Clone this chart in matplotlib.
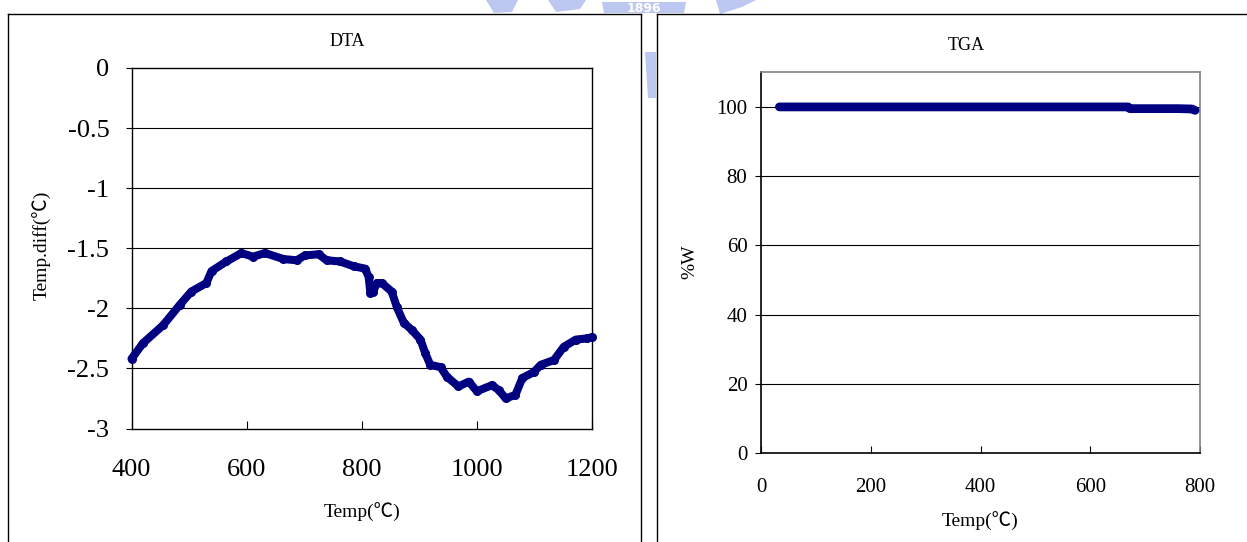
import matplotlib
matplotlib.use("Agg")
import matplotlib.pyplot as plt
from matplotlib.lines import Line2D
from matplotlib.patches import Polygon

# ---- data -------------------------------------------------------------
dta_temp = [400, 420, 455, 484, 504, 530, 539, 565, 591, 611, 632, 664, 687,
            701, 725, 739, 762, 786, 806, 812, 815, 820, 826, 835, 852, 861,
            873, 887, 902, 910, 919, 937, 948, 968, 986, 1000, 1026, 1038,
            1050, 1067, 1079, 1099, 1111, 1134, 1151, 1172, 1192, 1200]
dta_diff = [-2.42, -2.29, -2.14, -1.97, -1.86, -1.79, -1.69, -1.61, -1.54,
            -1.57, -1.54, -1.59, -1.60, -1.56, -1.55, -1.60, -1.61, -1.65,
            -1.67, -1.74, -1.87, -1.86, -1.79, -1.79, -1.86, -1.99, -2.12,
            -2.18, -2.26, -2.37, -2.47, -2.49, -2.57, -2.65, -2.61, -2.69,
            -2.64, -2.68, -2.75, -2.72, -2.58, -2.53, -2.47, -2.43, -2.32,
            -2.26, -2.25, -2.24]

tga_temp = [33, 200, 400, 600, 669, 672, 700, 760, 785, 791]
tga_weight = [100.0, 100.0, 100.0, 100.0, 100.0, 99.5, 99.5, 99.5, 99.4, 99.0]

dta_xticks = [400, 600, 800, 1000, 1200]
dta_yticks = [0, -0.5, -1, -1.5, -2, -2.5, -3]
dta_yticklabels = ["0", "-0.5", "-1", "-1.5", "-2", "-2.5", "-3"]
tga_xticks = [0, 200, 400, 600, 800]
tga_yticks = [0, 20, 40, 60, 80, 100]

# ---- style ------------------------------------------------------------
W, H = 1247, 542
SERIF = ["Liberation Serif", "Noto Sans CJK TC", "DejaVu Serif"]
plt.rcParams["font.family"] = SERIF
NAVY = "#000080"


def fx(px):
    return px / W


def fy(py):
    return 1 - py / H


fig = plt.figure(figsize=(W / 100, H / 100), dpi=100)
fig.patch.set_facecolor("white")

# faint emblem at the top of the page
WM = "#bcc8f0"
for pts in ([(486, 0), (518, 0), (512, 12), (494, 13)],
            [(548, 0), (586, 0), (580, 9), (556, 12)],
            [(602, 2), (686, 2), (684, 13), (604, 13)],
            [(716, 0), (756, 0), (742, 7), (720, 14)],
            [(645, 52), (656, 52), (656, 98), (648, 98)]):
    fig.add_artist(Polygon([(fx(x), fy(y)) for x, y in pts], closed=True,
                           transform=fig.transFigure, facecolor=WM,
                           edgecolor="none", zorder=0))
fig.text(fx(644), fy(8), "1896", color="white", fontsize=9,
         fontweight="bold", ha="center", va="center", zorder=1,
         family="DejaVu Sans")

# panel frames
frame_kw = dict(transform=fig.transFigure, color="black", lw=1.0, zorder=2)
for seg in (((8, 641), (14, 14)), ((8, 8), (14, 560)), ((641, 641), (14, 560)),
            ((657, 1260), (14, 14)), ((657, 657), (14, 560))):
    (x0, x1), (y0, y1) = seg
    fig.add_artist(Line2D([fx(x0), fx(x1)], [fy(y0), fy(y1)], **frame_kw))

# ---- DTA panel ----------------------------------------------------------
ax1 = fig.add_axes([fx(131.5), fy(428.5), (592 - 131.5) / W, (428.5 - 68) / H])
ax1.plot(dta_temp, dta_diff, color=NAVY, lw=5.8, solid_capstyle="round",
         solid_joinstyle="round", marker="o", markersize=6.5,
         markeredgewidth=0, clip_on=False, zorder=3)
ax1.set_xlim(400, 1200)
ax1.set_ylim(-3, 0)
ax1.set_xticks(dta_xticks)
ax1.set_yticks(dta_yticks)
ax1.set_yticklabels(dta_yticklabels)
for y in dta_yticks[1:-1]:
    ax1.axhline(y, color="black", lw=0.8, zorder=1)
for s in ax1.spines.values():
    s.set_color("black")
    s.set_linewidth(1.0)
ax1.tick_params(axis="x", direction="in", length=6, width=0.8,
                labelsize=19, pad=22)
ax1.tick_params(axis="y", direction="out", length=4, width=0.8,
                labelsize=19, pad=12)
fig.text(fx(347), fy(41), "DTA", fontsize=13, ha="center", va="center")
fig.text(fx(42), fy(245), "Temp.diff(℃)", fontsize=14, rotation=90,
         ha="center", va="center")
fig.text(fx(362), fy(512), "Temp(℃)", fontsize=14, ha="center",
         va="center")

# ---- TGA panel ----------------------------------------------------------
ax2 = fig.add_axes([fx(761.3), fy(453), (1200 - 761.3) / W, (453 - 72.3) / H])
ax2.plot(tga_temp, tga_weight, color=NAVY, lw=6.3, solid_capstyle="round",
         solid_joinstyle="round", clip_on=False, zorder=3)
ax2.set_xlim(0, 800)
ax2.set_ylim(0, 110)
ax2.set_xticks(tga_xticks)
ax2.set_yticks(tga_yticks)
for y in tga_yticks[1:]:
    ax2.axhline(y, color="black", lw=0.8, zorder=1)
ax2.spines["left"].set_color("black")
ax2.spines["bottom"].set_color("black")
ax2.spines["top"].set_color("#808080")
ax2.spines["right"].set_color("#808080")
for s in ax2.spines.values():
    s.set_linewidth(1.2)
ax2.tick_params(axis="x", direction="in", length=5, width=0.8,
                labelsize=15, pad=18)
ax2.tick_params(axis="y", direction="out", length=4, width=0.8,
                labelsize=15, pad=6)
fig.text(fx(966), fy(46), "TGA", fontsize=13, ha="center", va="center")
fig.text(fx(690), fy(262), "%W", fontsize=14, rotation=90,
         ha="center", va="center")
fig.text(fx(980), fy(521), "Temp(℃)", fontsize=14, ha="center",
         va="center")

fig.savefig("out.png", dpi=100, facecolor="white")
